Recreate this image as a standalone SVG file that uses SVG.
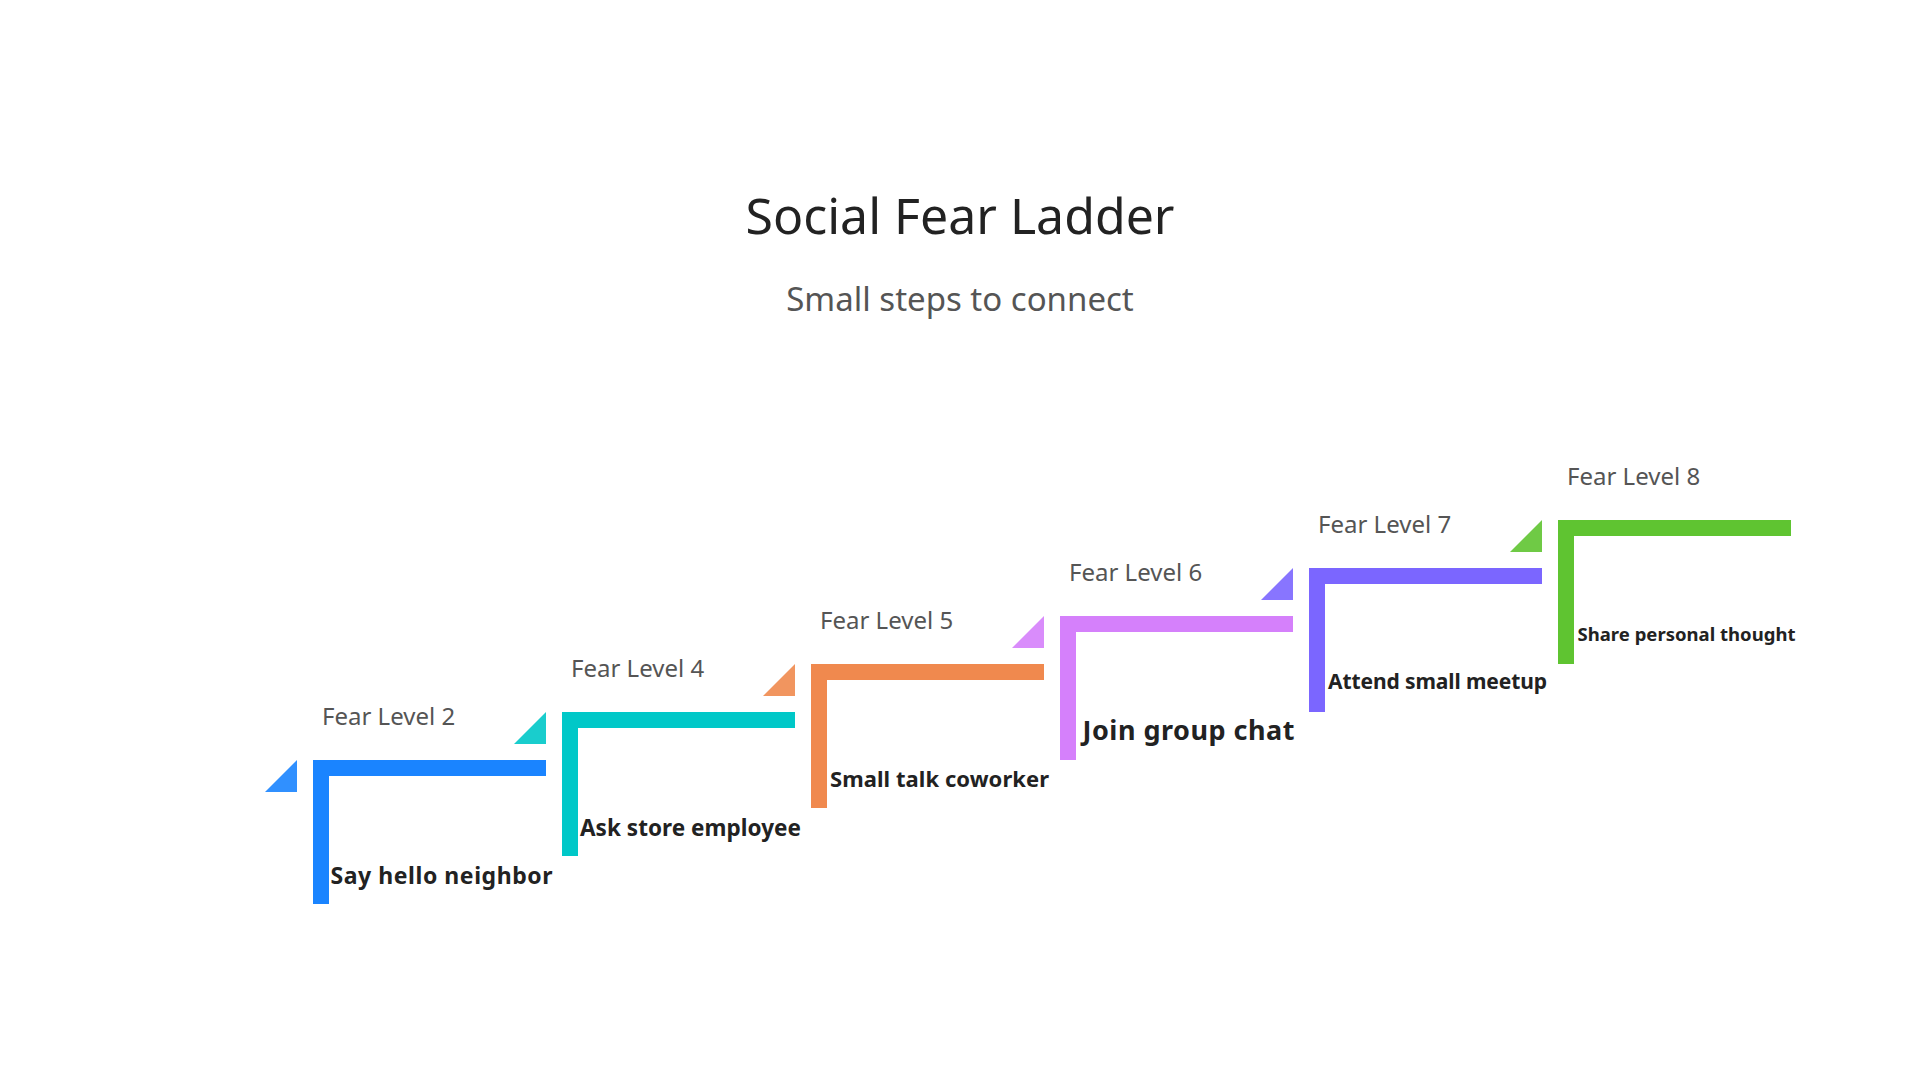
<svg xmlns="http://www.w3.org/2000/svg" width="1920" height="1080" viewBox="0 0 1920 1080">
  <style>
    .title { font-family: "Noto Sans", "Liberation Sans", sans-serif; font-size: 50px; fill: #222222; text-anchor: middle; }
    .subtitle { font-family: "Noto Sans", "Liberation Sans", sans-serif; font-size: 33px; fill: #555555; text-anchor: middle; }
    .level { font-family: "Noto Sans", "Liberation Sans", sans-serif; font-size: 24px; fill: #555555; }
    .task { font-family: "Noto Sans", "Liberation Sans", sans-serif; font-weight: bold; fill: #222222; text-anchor: middle; }
    .tri { opacity: 0.9; }
  </style>
  <rect x="0" y="0" width="1920" height="1080" fill="#ffffff"/>
  <g id="header">
    <text class="title" x="960" y="234">Social Fear Ladder</text>
    <text class="subtitle" x="960" y="311">Small steps to connect</text>
  </g>
  <g id="connectors"></g>
  <g id="step-1">
    <polygon class="tri" points="265,792 297,792 297,760" fill="#1A84FF"/>
    <rect x="313" y="760" width="233" height="16" fill="#1A84FF"/>
    <rect x="313" y="760" width="16" height="144" fill="#1A84FF"/>
    <text class="level" x="322" y="725">Fear Level 2</text>
    <text class="task" x="441.5" y="884" font-size="23" textLength="222" lengthAdjust="spacing">Say hello neighbor</text>
  </g>
  <g id="step-2">
    <polygon class="tri" points="514,744 546,744 546,712" fill="#00C8C8"/>
    <rect x="562" y="712" width="233" height="16" fill="#00C8C8"/>
    <rect x="562" y="712" width="16" height="144" fill="#00C8C8"/>
    <text class="level" x="571" y="677">Fear Level 4</text>
    <text class="task" x="690.5" y="836" font-size="22.5" textLength="221" lengthAdjust="spacing">Ask store employee</text>
  </g>
  <g id="step-3">
    <polygon class="tri" points="763,696 795,696 795,664" fill="#F0894E"/>
    <rect x="811" y="664" width="233" height="16" fill="#F0894E"/>
    <rect x="811" y="664" width="16" height="144" fill="#F0894E"/>
    <text class="level" x="820" y="629">Fear Level 5</text>
    <text class="task" x="939.5" y="787" font-size="22" textLength="219" lengthAdjust="spacing">Small talk coworker</text>
  </g>
  <g id="step-4">
    <polygon class="tri" points="1012,648 1044,648 1044,616" fill="#D580FB"/>
    <rect x="1060" y="616" width="233" height="16" fill="#D580FB"/>
    <rect x="1060" y="616" width="16" height="144" fill="#D580FB"/>
    <text class="level" x="1069" y="581">Fear Level 6</text>
    <text class="task" x="1188.5" y="740" font-size="27" textLength="212" lengthAdjust="spacing">Join group chat</text>
  </g>
  <g id="step-5">
    <polygon class="tri" points="1261,600 1293,600 1293,568" fill="#7B66FF"/>
    <rect x="1309" y="568" width="233" height="16" fill="#7B66FF"/>
    <rect x="1309" y="568" width="16" height="144" fill="#7B66FF"/>
    <text class="level" x="1318" y="533">Fear Level 7</text>
    <text class="task" x="1437.5" y="689" font-size="21" textLength="219" lengthAdjust="spacing">Attend small meetup</text>
  </g>
  <g id="step-6">
    <polygon class="tri" points="1510,552 1542,552 1542,520" fill="#5FC431"/>
    <rect x="1558" y="520" width="233" height="16" fill="#5FC431"/>
    <rect x="1558" y="520" width="16" height="144" fill="#5FC431"/>
    <text class="level" x="1567" y="485">Fear Level 8</text>
    <text class="task" x="1686.5" y="641" font-size="18.5" textLength="218" lengthAdjust="spacing">Share personal thought</text>
  </g>
</svg>
